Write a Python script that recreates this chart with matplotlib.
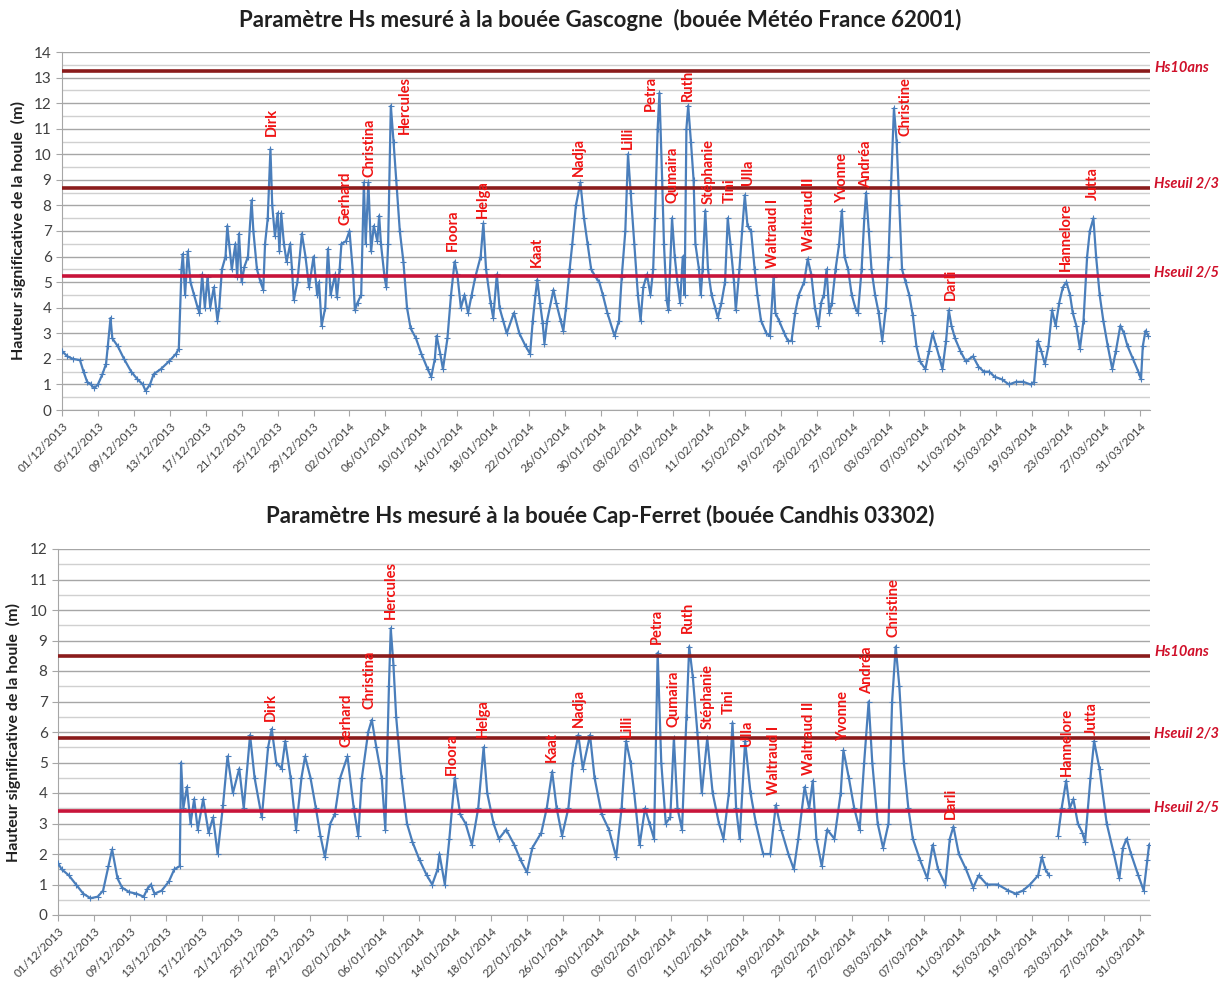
import numpy as np
import matplotlib.pyplot as plt
import matplotlib.dates as mdates
from datetime import datetime, timedelta

plt.rcParams['font.family'] = ['Lato', 'DejaVu Sans']

debut = datetime(2013, 12, 1)

# Bouée Gascogne (62001) : jours depuis le 01/12/2013, Hs (m)
g_jours = [0, 0.6, 1.2, 2.0, 2.4, 2.8, 3.2, 3.6, 4.0, 4.5, 4.9, 5.1, 5.4, 5.6, 6.2, 6.9, 7.7, 8.4, 9.0, 9.3,
           9.8, 10.2, 11.0, 11.9, 12.7, 13.0, 13.3, 13.45, 13.7, 14.0, 14.3, 14.7, 15.1, 15.3, 15.6, 15.9, 16.2, 16.5, 16.9, 17.3,
           17.5, 17.8, 18.2, 18.4, 18.6, 18.9, 19.3, 19.5, 19.7, 20.0, 20.3, 20.7, 21.1, 21.3, 21.7, 22.1, 22.4, 22.6, 22.9, 23.2,
           23.4, 23.7, 24.0, 24.2, 24.4, 24.7, 25.0, 25.4, 25.6, 25.8, 26.2, 26.7, 27.1, 27.5, 28.0, 28.4, 28.6, 28.9, 29.3, 29.6,
           29.9, 30.4, 30.6, 30.9, 31.1, 31.6, 32.0, 32.4, 32.6, 32.9, 33.3, 33.6, 33.8, 34.1, 34.4, 34.7, 35.1, 35.3, 35.5, 35.9,
           36.1, 36.3, 36.6, 36.9, 37.2, 37.6, 38.0, 38.4, 38.8, 39.4, 40.0, 40.7, 41.1, 41.5, 41.7, 42.1, 42.4, 42.9, 43.3, 43.7,
           44.0, 44.4, 44.8, 45.2, 45.6, 46.0, 46.6, 46.9, 47.2, 47.7, 48.0, 48.4, 48.7, 49.1, 49.5, 50.3, 50.9, 51.6, 52.1, 52.4,
           52.7, 52.9, 53.2, 53.5, 53.7, 54.0, 54.7, 55.0, 55.5, 55.8, 56.1, 56.5, 56.8, 57.2, 57.7, 58.1, 58.5, 58.9, 59.4, 59.8,
           60.2, 60.7, 61.5, 62.0, 62.3, 62.7, 63.0, 63.3, 63.7, 64.1, 64.4, 64.7, 65.1, 65.5, 65.8, 66.0, 66.3, 66.5, 66.8, 67.0,
           67.3, 67.5, 67.9, 68.2, 68.5, 68.8, 69.1, 69.3, 69.5, 69.7, 70.0, 70.3, 70.5, 70.9, 71.1, 71.3, 71.6, 71.9, 72.3, 72.7,
           73.0, 73.4, 73.8, 74.1, 74.4, 74.8, 75.0, 75.4, 75.7, 76.0, 76.3, 76.7, 77.1, 77.4, 77.8, 78.4, 78.8, 79.2, 79.4, 79.8,
           80.4, 80.8, 81.2, 81.6, 82.0, 82.6, 83.0, 83.4, 83.8, 84.2, 84.5, 84.8, 85.1, 85.4, 85.7, 86.1, 86.5, 86.8, 87.1, 87.5,
           87.9, 88.3, 88.6, 89.0, 89.3, 89.5, 89.8, 90.1, 90.5, 90.9, 91.3, 91.7, 92.0, 92.3, 92.6, 92.9, 93.2, 93.5, 93.9, 94.3,
           94.7, 95.1, 95.5, 96.1, 96.5, 96.9, 97.3, 97.7, 98.0, 98.4, 98.7, 99.0, 99.4, 100.0, 100.6, 101.4, 102.0, 102.6, 103.2, 103.8,
           104.6, 105.4, 106.2, 107.0, 107.8, 108.2, 108.6, 109.0, 109.4, 109.8, 110.2, 110.6, 111.0, 111.4, 111.8, 112.2, 112.5, 112.9, 113.3, 113.7,
           114.1, 114.4, 114.8, 115.1, 115.5, 115.9, 116.4, 116.9, 117.3, 117.8, 118.2, 118.6, 119.2, 119.8, 120.1, 120.3, 120.6, 120.9]
g_hs = [2.3, 2.1, 2.0, 1.95, 1.5, 1.1, 1.0, 0.85, 1.0, 1.4, 1.8, 2.5, 3.6, 2.8, 2.5, 2.0, 1.5, 1.2, 1.0, 0.75,
        1.0, 1.4, 1.6, 1.9, 2.2, 2.4, 5.5, 6.1, 4.5, 6.2, 5.0, 4.5, 4.0, 3.8, 5.3, 4.0, 5.2, 4.0, 4.8, 3.5,
        4.0, 5.5, 6.0, 7.2, 6.5, 5.5, 6.5, 5.2, 6.9, 5.0, 5.6, 6.0, 8.2, 7.0, 5.5, 5.0, 4.7, 6.5, 7.5, 10.2,
        8.0, 6.8, 7.7, 6.2, 7.7, 6.5, 5.8, 6.5, 5.5, 4.3, 5.0, 6.9, 6.0, 4.8, 6.0, 4.5, 5.0, 3.3, 4.0, 6.3,
        4.5, 5.3, 4.4, 5.5, 6.5, 6.6, 7.0, 5.3, 3.9, 4.2, 4.5, 8.9, 6.5, 8.9, 6.2, 7.2, 6.6, 7.6, 6.5, 5.2,
        4.8, 6.5, 11.9, 10.5, 9.0, 7.0, 5.8, 4.0, 3.2, 2.8, 2.2, 1.6, 1.3, 2.0, 2.9, 2.2, 1.6, 2.8, 4.5, 5.8,
        5.3, 4.0, 4.5, 3.8, 4.5, 5.2, 6.0, 7.3, 5.5, 4.2, 3.6, 5.3, 4.0, 3.5, 3.0, 3.8, 3.0, 2.5, 2.2, 3.5,
        4.5, 5.1, 4.2, 3.4, 2.6, 3.5, 4.7, 4.2, 3.5, 3.1, 4.0, 5.5, 6.5, 8.0, 8.9, 7.5, 6.5, 5.5, 5.2, 5.0,
        4.5, 3.8, 2.9, 3.5, 5.2, 7.0, 10.0, 8.5, 6.5, 4.5, 3.5, 4.8, 5.3, 4.5, 5.5, 7.5, 11.0, 12.4, 9.0, 6.5,
        4.3, 3.9, 7.5, 6.0, 5.0, 4.2, 6.0, 4.5, 11.0, 11.9, 10.5, 9.0, 6.5, 5.5, 4.5, 5.5, 7.8, 5.5, 4.5, 4.0,
        3.6, 4.2, 5.0, 7.5, 6.5, 5.0, 3.9, 5.5, 7.0, 8.4, 7.2, 7.0, 5.5, 4.5, 3.5, 3.0, 2.9, 5.2, 3.8, 3.5,
        3.0, 2.7, 2.7, 3.8, 4.5, 5.0, 5.9, 5.3, 4.0, 3.3, 4.2, 4.5, 5.5, 3.8, 4.2, 5.5, 6.5, 7.8, 6.0, 5.5,
        4.5, 4.0, 3.8, 5.5, 7.5, 8.5, 7.0, 5.5, 4.5, 3.8, 2.7, 4.0, 6.0, 9.0, 11.8, 10.5, 8.0, 5.5, 5.0, 4.5,
        3.7, 2.5, 1.9, 1.6, 2.3, 3.0, 2.5, 2.0, 1.6, 2.7, 3.9, 3.3, 2.8, 2.3, 1.9, 2.1, 1.7, 1.5, 1.5, 1.3,
        1.2, 1.0, 1.1, 1.1, 1.0, 1.1, 2.7, 2.3, 1.8, 2.5, 3.9, 3.3, 4.2, 4.8, 5.0, 4.5, 3.8, 3.3, 2.4, 3.5,
        6.0, 7.0, 7.5, 6.0, 4.5, 3.5, 2.5, 1.6, 2.3, 3.3, 3.0, 2.5, 2.0, 1.5, 1.2, 2.5, 3.1, 2.9]

# Bouée Cap-Ferret (Candhis 03302)
c_jours = [0, 0.4, 1.2, 2.0, 2.8, 3.6, 4.4, 5.0, 5.6, 6.0, 6.6, 7.1, 7.9, 8.7, 9.5, 9.9, 10.3, 10.7, 11.5, 12.3,
           12.9, 13.5, 13.65, 13.9, 14.3, 14.7, 15.1, 15.5, 16.1, 16.7, 17.2, 17.7, 18.3, 18.8, 19.4, 20.1, 20.6, 21.3, 21.8, 22.6,
           23.3, 23.7, 24.2, 24.8, 25.2, 25.8, 26.4, 27.0, 27.4, 28.0, 28.6, 29.1, 29.6, 30.2, 30.7, 31.3, 32.1, 32.8, 33.3, 33.7,
           34.4, 34.8, 35.3, 35.9, 36.3, 36.7, 36.9, 37.2, 37.5, 38.1, 38.7, 39.3, 40.1, 40.9, 41.5, 42.1, 42.3, 42.9, 43.4, 44.0,
           44.6, 45.2, 45.9, 46.6, 47.2, 47.6, 48.3, 48.9, 49.7, 50.6, 51.3, 52.0, 52.6, 53.6, 54.2, 54.8, 55.3, 55.9, 56.6, 57.1,
           57.7, 58.2, 59.0, 59.5, 60.3, 61.1, 61.9, 62.5, 63.0, 63.5, 63.9, 64.5, 65.1, 65.6, 66.1, 66.5, 66.9, 67.4, 67.9, 68.3,
           68.7, 69.2, 69.7, 70.0, 70.4, 70.9, 71.4, 72.0, 72.6, 73.3, 73.8, 74.4, 74.8, 75.2, 75.6, 76.2, 76.8, 77.4, 78.2, 79.0,
           79.6, 80.2, 81.0, 81.6, 82.1, 82.8, 83.3, 83.7, 84.1, 84.7, 85.3, 86.1, 86.8, 87.1, 87.7, 88.3, 88.9, 89.4, 89.9, 90.3,
           90.9, 91.5, 92.1, 92.5, 92.9, 93.3, 93.8, 94.3, 94.8, 95.6, 96.4, 97.0, 97.6, 98.4, 98.9, 99.3, 99.9, 100.7, 101.5, 102.1,
           103.0, 104.2, 105.4, 106.2, 107.0, 107.8, 108.7, 109.1, 109.5, 109.9, 110.3, 110.9, 111.3, 111.8, 112.2, 112.6, 113.1, 113.6, 113.9, 114.5,
           114.9, 115.5, 116.3, 117.1, 117.7, 118.1, 118.5, 119.0, 119.8, 120.4, 120.8, 121.0]
c_hs = [1.7, 1.5, 1.3, 1.0, 0.7, 0.55, 0.6, 0.8, 1.6, 2.15, 1.2, 0.9, 0.75, 0.7, 0.6, 0.85, 1.0, 0.7, 0.8, 1.1,
        1.5, 1.6, 5.0, 3.5, 4.2, 3.0, 3.8, 2.8, 3.8, 2.7, 3.2, 2.0, 3.6, 5.2, 4.0, 4.8, 3.5, 5.9, 4.5, 3.2,
        5.5, 6.1, 5.0, 4.8, 5.7, 4.5, 2.8, 4.5, 5.2, 4.5, 3.5, 2.6, 1.9, 3.0, 3.3, 4.5, 5.2, 3.5, 2.6, 4.5,
        6.0, 6.4, 5.5, 4.5, 2.8, 7.5, 9.4, 8.2, 6.5, 4.5, 3.0, 2.4, 1.8, 1.3, 1.0, 1.5, 2.0, 1.0, 2.5, 4.5,
        3.3, 3.0, 2.3, 3.5, 5.5, 4.0, 3.0, 2.5, 2.8, 2.3, 1.8, 1.4, 2.2, 2.7, 3.5, 4.7, 3.5, 2.6, 3.5, 5.0,
        5.9, 4.8, 5.9, 4.5, 3.3, 2.8, 1.9, 3.5, 5.7, 5.0, 4.0, 2.3, 3.5, 3.0, 2.5, 8.6, 5.0, 3.0, 3.2, 5.8,
        3.5, 2.8, 6.5, 8.8, 7.8, 6.0, 4.0, 5.8, 4.0, 3.0, 2.5, 4.0, 6.3, 3.5, 2.5, 5.7, 4.0, 3.0, 2.0, 2.0,
        3.6, 2.8, 2.0, 1.5, 2.5, 4.2, 3.5, 4.4, 2.5, 1.6, 2.8, 2.5, 4.0, 5.4, 4.5, 3.5, 2.8, 5.0, 7.0, 5.0,
        3.0, 2.2, 3.0, 7.0, 8.8, 7.5, 5.0, 3.5, 2.5, 1.8, 1.2, 2.3, 1.5, 1.0, 2.5, 2.9, 2.0, 1.5, 0.9, 1.3,
        1.0, 1.0, 0.8, 0.7, 0.8, 1.0, 1.3, 1.9, 1.5, 1.3, np.nan, 2.6, 3.5, 4.4, 3.5, 3.8, 3.0, 2.7, 2.4, 4.5,
        5.7, 4.8, 3.0, 2.0, 1.2, 2.2, 2.5, 2.0, 1.3, 0.8, 1.8, 2.3]

# tempêtes nommées
tempetes = ['Dirk', 'Gerhard', 'Christina', 'Hercules', 'Floora', 'Helga', 'Kaat', 'Nadja', 'Lilli', 'Petra',
            'Qumaira', 'Ruth', 'Stéphanie', 'Tini', 'Ulla', 'Waltraud I', 'Waltraud II', 'Yvonne', 'Andréa',
            'Christine', 'Darli', 'Hannelore', 'Jutta']
g_tempete_jour = [23.4, 31.6, 34.2, 38.2, 43.5, 46.8, 52.9, 57.5, 63.0, 65.5, 68.0, 69.7, 72.0, 74.3, 76.4,
                  79.1, 83.1, 86.8, 89.5, 93.9, 98.9, 111.7, 114.7]
g_tempete_h = [10.7, 7.25, 9.1, 10.8, 6.2, 7.5, 5.6, 9.15, 10.2, 11.7, 8.1, 12.1, 8.05, 8.1, 8.8,
               5.55, 6.2, 8.1, 8.7, 10.7, 4.3, 5.45, 8.2]
c_tempete_jour = [23.6, 32.0, 34.5, 36.9, 43.7, 47.1, 54.8, 57.8, 63.1, 66.4, 68.3, 69.9, 72.1, 74.4, 76.4,
                  79.4, 83.3, 87.1, 89.7, 92.7, 99.0, 111.9, 114.7]
c_tempete_h = [6.35, 5.5, 6.75, 9.7, 4.6, 5.85, 5.0, 6.15, 5.85, 8.9, 6.15, 9.25, 6.1, 6.6, 5.55,
               3.95, 4.6, 5.7, 7.25, 9.1, 3.15, 4.55, 5.9]

seuils_noms = ['Hs10ans', 'Hseuil 2/3', 'Hseuil 2/5']
g_seuils = [13.25, 8.7, 5.25]
c_seuils = [8.5, 5.8, 3.4]

rouge_fonce = '#8b1c1c'
rouge_clair = '#c8143a'
bleu = '#4a7ebb'


def en_dates(jours):
    return [debut + timedelta(days=j) for j in jours]


def tracer(ax, jours, hs, ymax, seuils, t_jours, t_h):
    ax.plot(en_dates(jours), hs, color=bleu, lw=1.6, marker='+', ms=4, mew=0.8, zorder=3)
    ax.set_xlim(debut, debut + timedelta(days=121.1))
    ax.set_ylim(0, ymax)
    ticks = [debut + timedelta(days=4 * k) for k in range(31)]
    ax.set_xticks(mdates.date2num(ticks))
    ax.xaxis.set_major_formatter(mdates.DateFormatter('%d/%m/%Y'))
    ax.set_yticks(np.arange(0, ymax + 1, 1))
    ax.set_yticks(np.arange(0, ymax, 0.5), minor=True)
    ax.grid(which='major', axis='y', color='#a6a6a6', lw=1.0, zorder=0)
    ax.grid(which='minor', axis='y', color='#d0d0d0', lw=1.0, zorder=0)
    for s in ['top', 'right']:
        ax.spines[s].set_visible(False)
    for s in ['left', 'bottom']:
        ax.spines[s].set_color('#a6a6a6')
    ax.tick_params(axis='x', labelsize=8.5, labelcolor='#404040', color='#a6a6a6', length=4,
                   labelrotation=45)
    ax.tick_params(axis='y', labelsize=11, labelcolor='#404040', color='#a6a6a6', length=4)
    ax.tick_params(axis='y', which='minor', length=0)
    for lab in ax.get_xticklabels():
        lab.set_ha('right')
        lab.set_rotation_mode('anchor')

    couleurs = [rouge_fonce, rouge_fonce, rouge_clair]
    for nom, val, c in zip(seuils_noms, seuils, couleurs):
        ax.axhline(val, color=c, lw=2.6, zorder=4)
        ax.text(1.004, val + 0.12, nom, transform=ax.get_yaxis_transform(), color='#d0102a',
                fontsize=10.5, fontweight='bold', style='italic', va='center', ha='left', clip_on=False)

    for nom, j, h in zip(tempetes, t_jours, t_h):
        ax.text(debut + timedelta(days=j), h, nom, rotation=90, color='#f01414', fontsize=10.5,
                fontweight='bold', ha='center', va='bottom', zorder=5)
    ax.set_ylabel('Hauteur significative de la houle  (m)', fontsize=11.5, fontweight='bold',
                  color='#202020', labelpad=6)


fig = plt.figure(figsize=(12.25, 9.81), dpi=100)
ax1 = fig.add_axes([62 / 1225, 1 - 410 / 981, 1088 / 1225, 358 / 981])
ax2 = fig.add_axes([58 / 1225, 1 - 915 / 981, 1092 / 1225, 366 / 981])

tracer(ax1, g_jours, g_hs, 14, g_seuils, g_tempete_jour, g_tempete_h)
tracer(ax2, c_jours, c_hs, 12, c_seuils, c_tempete_jour, c_tempete_h)

fig.text(600 / 1225, 1 - 20 / 981, 'Paramètre Hs mesuré à la bouée Gascogne  (bouée Météo France 62001)',
         ha='center', va='center', fontsize=16, fontweight='bold', color='#202020')
fig.text(600 / 1225, 1 - 516 / 981, 'Paramètre Hs mesuré à la bouée Cap-Ferret (bouée Candhis 03302)',
         ha='center', va='center', fontsize=16, fontweight='bold', color='#202020')

fig.savefig('out.png', dpi=100)
